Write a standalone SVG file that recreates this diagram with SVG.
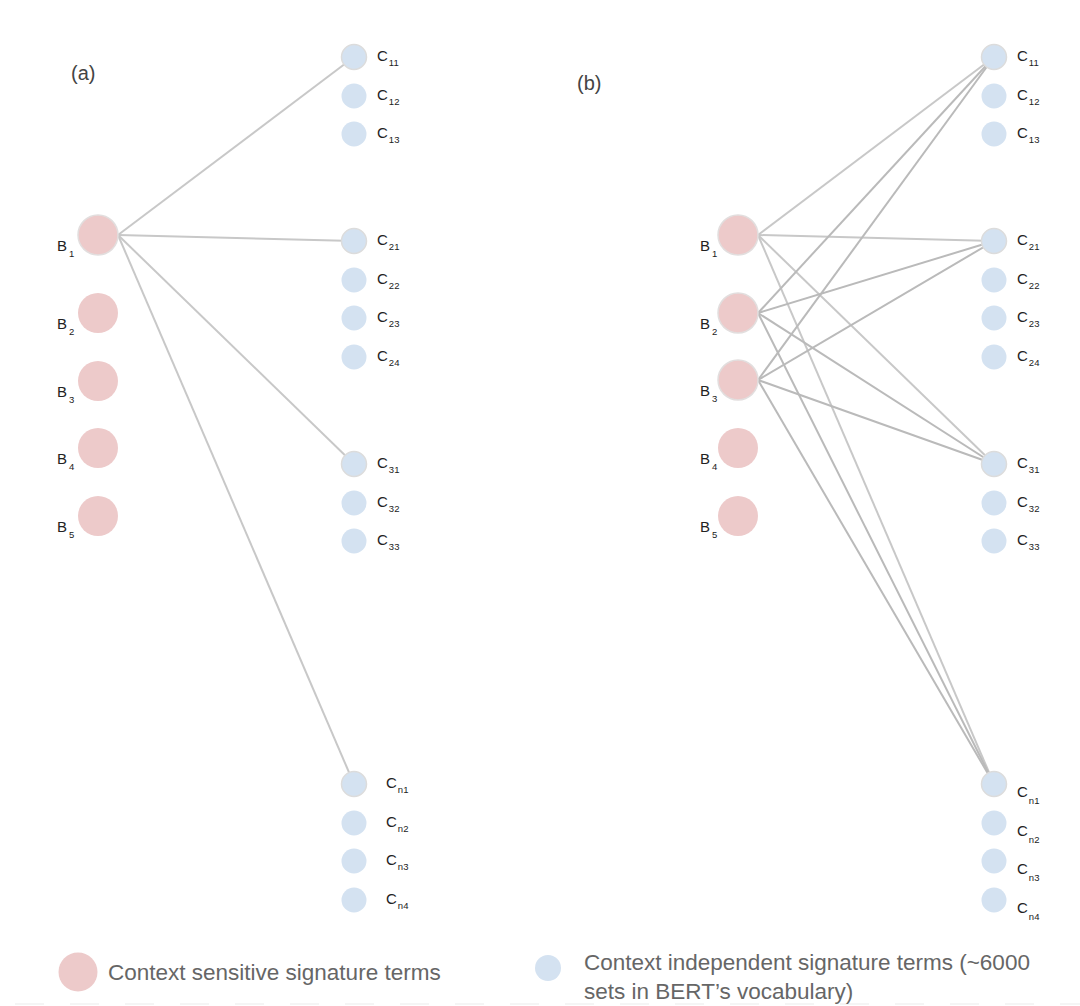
<svg xmlns="http://www.w3.org/2000/svg" width="1080" height="1006" viewBox="0 0 1080 1006">
<style>
.bn{fill:#edcaca}
.bc{stroke:#e2dede;stroke-width:1.5}
.cn{fill:#d4e2f1}
.cc{stroke:#dcdcdc;stroke-width:1.5}
.lbl{font-family:"Liberation Sans",Arial,sans-serif;font-size:15px;fill:#222}
.sub{font-size:9.5px}
.pan{font-family:"Liberation Sans",Arial,sans-serif;font-size:20px;fill:#444}
.leg{font-family:"Liberation Sans",Arial,sans-serif;font-size:22.5px;fill:#666}
.e1{stroke:#c8c8c8;stroke-width:2;fill:none}
.e2{stroke:#bababa;stroke-width:2;fill:none}
</style>
<rect width="1080" height="1006" fill="#fff"/>
<line x1="15" y1="1004" x2="1080" y2="1004" stroke="#f5f5f5" stroke-width="2" stroke-dasharray="29 26"/>
<text class="pan" x="71" y="80">(a)</text>
<text class="pan" x="577" y="90">(b)</text>
<g id="connectors">
<line class="e1" x1="118" y1="235" x2="354" y2="57"/>
<line class="e1" x1="118" y1="235" x2="354" y2="241"/>
<line class="e1" x1="118" y1="235" x2="354" y2="464"/>
<line class="e1" x1="118" y1="235" x2="354" y2="784"/>
<line class="e1" x1="758" y1="235" x2="994" y2="57"/>
<line class="e1" x1="758" y1="235" x2="994" y2="241"/>
<line class="e1" x1="758" y1="235" x2="994" y2="464"/>
<line class="e1" x1="758" y1="235" x2="994" y2="784"/>
<line class="e2" x1="758" y1="313" x2="994" y2="57"/>
<line class="e2" x1="758" y1="313" x2="994" y2="241"/>
<line class="e2" x1="758" y1="313" x2="994" y2="464"/>
<line class="e2" x1="758" y1="313" x2="994" y2="784"/>
<line class="e2" x1="758" y1="380" x2="994" y2="57"/>
<line class="e2" x1="758" y1="380" x2="994" y2="241"/>
<line class="e2" x1="758" y1="380" x2="994" y2="464"/>
<line class="e2" x1="758" y1="380" x2="994" y2="784"/>
</g>
<g id="a-B1"><circle class="bn bc" cx="98" cy="235" r="20"/><text class="lbl" x="57" y="251">B<tspan class="sub" dx="2" dy="6">1</tspan></text></g>
<g id="a-B2"><circle class="bn" cx="98" cy="313" r="20"/><text class="lbl" x="57" y="329">B<tspan class="sub" dx="2" dy="6">2</tspan></text></g>
<g id="a-B3"><circle class="bn" cx="98" cy="381" r="20"/><text class="lbl" x="57" y="397">B<tspan class="sub" dx="2" dy="6">3</tspan></text></g>
<g id="a-B4"><circle class="bn" cx="98" cy="448" r="20"/><text class="lbl" x="57" y="464">B<tspan class="sub" dx="2" dy="6">4</tspan></text></g>
<g id="a-B5"><circle class="bn" cx="98" cy="516" r="20"/><text class="lbl" x="57" y="532">B<tspan class="sub" dx="2" dy="6">5</tspan></text></g>
<g id="a-C11"><circle class="cn cc" cx="354" cy="57" r="12.5"/><text class="lbl" x="377" y="61">C<tspan class="sub" dx="1" dy="5">11</tspan></text></g>
<g id="a-C12"><circle class="cn" cx="354" cy="96" r="12.5"/><text class="lbl" x="377" y="100">C<tspan class="sub" dx="1" dy="5">12</tspan></text></g>
<g id="a-C13"><circle class="cn" cx="354" cy="134" r="12.5"/><text class="lbl" x="377" y="138">C<tspan class="sub" dx="1" dy="5">13</tspan></text></g>
<g id="a-C21"><circle class="cn cc" cx="354" cy="241" r="12.5"/><text class="lbl" x="377" y="245">C<tspan class="sub" dx="1" dy="5">21</tspan></text></g>
<g id="a-C22"><circle class="cn" cx="354" cy="280" r="12.5"/><text class="lbl" x="377" y="284">C<tspan class="sub" dx="1" dy="5">22</tspan></text></g>
<g id="a-C23"><circle class="cn" cx="354" cy="318" r="12.5"/><text class="lbl" x="377" y="322">C<tspan class="sub" dx="1" dy="5">23</tspan></text></g>
<g id="a-C24"><circle class="cn" cx="354" cy="357" r="12.5"/><text class="lbl" x="377" y="361">C<tspan class="sub" dx="1" dy="5">24</tspan></text></g>
<g id="a-C31"><circle class="cn cc" cx="354" cy="464" r="12.5"/><text class="lbl" x="377" y="468">C<tspan class="sub" dx="1" dy="5">31</tspan></text></g>
<g id="a-C32"><circle class="cn" cx="354" cy="503" r="12.5"/><text class="lbl" x="377" y="507">C<tspan class="sub" dx="1" dy="5">32</tspan></text></g>
<g id="a-C33"><circle class="cn" cx="354" cy="541" r="12.5"/><text class="lbl" x="377" y="545">C<tspan class="sub" dx="1" dy="5">33</tspan></text></g>
<g id="a-Cn1"><circle class="cn cc" cx="354" cy="784" r="12.5"/><text class="lbl" x="386" y="788">C<tspan class="sub" dx="1" dy="5">n1</tspan></text></g>
<g id="a-Cn2"><circle class="cn" cx="354" cy="823" r="12.5"/><text class="lbl" x="386" y="827">C<tspan class="sub" dx="1" dy="5">n2</tspan></text></g>
<g id="a-Cn3"><circle class="cn" cx="354" cy="861" r="12.5"/><text class="lbl" x="386" y="865">C<tspan class="sub" dx="1" dy="5">n3</tspan></text></g>
<g id="a-Cn4"><circle class="cn" cx="354" cy="900" r="12.5"/><text class="lbl" x="386" y="904">C<tspan class="sub" dx="1" dy="5">n4</tspan></text></g>
<g id="b-B1"><circle class="bn bc" cx="738" cy="235" r="20"/><text class="lbl" x="700" y="251">B<tspan class="sub" dx="2" dy="6">1</tspan></text></g>
<g id="b-B2"><circle class="bn bc" cx="738" cy="313" r="20"/><text class="lbl" x="700" y="329">B<tspan class="sub" dx="2" dy="6">2</tspan></text></g>
<g id="b-B3"><circle class="bn bc" cx="738" cy="380" r="20"/><text class="lbl" x="700" y="396">B<tspan class="sub" dx="2" dy="6">3</tspan></text></g>
<g id="b-B4"><circle class="bn" cx="738" cy="448" r="20"/><text class="lbl" x="700" y="464">B<tspan class="sub" dx="2" dy="6">4</tspan></text></g>
<g id="b-B5"><circle class="bn" cx="738" cy="516" r="20"/><text class="lbl" x="700" y="532">B<tspan class="sub" dx="2" dy="6">5</tspan></text></g>
<g id="b-C11"><circle class="cn cc" cx="994" cy="57" r="12.5"/><text class="lbl" x="1017" y="61">C<tspan class="sub" dx="1" dy="5">11</tspan></text></g>
<g id="b-C12"><circle class="cn" cx="994" cy="96" r="12.5"/><text class="lbl" x="1017" y="100">C<tspan class="sub" dx="1" dy="5">12</tspan></text></g>
<g id="b-C13"><circle class="cn" cx="994" cy="134" r="12.5"/><text class="lbl" x="1017" y="138">C<tspan class="sub" dx="1" dy="5">13</tspan></text></g>
<g id="b-C21"><circle class="cn cc" cx="994" cy="241" r="12.5"/><text class="lbl" x="1017" y="245">C<tspan class="sub" dx="1" dy="5">21</tspan></text></g>
<g id="b-C22"><circle class="cn" cx="994" cy="280" r="12.5"/><text class="lbl" x="1017" y="284">C<tspan class="sub" dx="1" dy="5">22</tspan></text></g>
<g id="b-C23"><circle class="cn" cx="994" cy="318" r="12.5"/><text class="lbl" x="1017" y="322">C<tspan class="sub" dx="1" dy="5">23</tspan></text></g>
<g id="b-C24"><circle class="cn" cx="994" cy="357" r="12.5"/><text class="lbl" x="1017" y="361">C<tspan class="sub" dx="1" dy="5">24</tspan></text></g>
<g id="b-C31"><circle class="cn cc" cx="994" cy="464" r="12.5"/><text class="lbl" x="1017" y="468">C<tspan class="sub" dx="1" dy="5">31</tspan></text></g>
<g id="b-C32"><circle class="cn" cx="994" cy="503" r="12.5"/><text class="lbl" x="1017" y="507">C<tspan class="sub" dx="1" dy="5">32</tspan></text></g>
<g id="b-C33"><circle class="cn" cx="994" cy="541" r="12.5"/><text class="lbl" x="1017" y="545">C<tspan class="sub" dx="1" dy="5">33</tspan></text></g>
<g id="b-Cn1"><circle class="cn cc" cx="994" cy="784" r="12.5"/><text class="lbl" x="1017" y="797">C<tspan class="sub" dx="1" dy="7">n1</tspan></text></g>
<g id="b-Cn2"><circle class="cn" cx="994" cy="823" r="12.5"/><text class="lbl" x="1017" y="836">C<tspan class="sub" dx="1" dy="7">n2</tspan></text></g>
<g id="b-Cn3"><circle class="cn" cx="994" cy="861" r="12.5"/><text class="lbl" x="1017" y="874">C<tspan class="sub" dx="1" dy="7">n3</tspan></text></g>
<g id="b-Cn4"><circle class="cn" cx="994" cy="900" r="12.5"/><text class="lbl" x="1017" y="913">C<tspan class="sub" dx="1" dy="7">n4</tspan></text></g>
<g id="legend">
<circle class="bn" cx="78" cy="972" r="19.5"/>
<text class="leg" x="108" y="980">Context sensitive signature terms</text>
<circle class="cn" cx="548" cy="968" r="13"/>
<text class="leg" x="584" y="970">Context independent signature terms (~6000</text>
<text class="leg" x="584" y="999">sets in BERT’s vocabulary)</text>
</g>
</svg>
